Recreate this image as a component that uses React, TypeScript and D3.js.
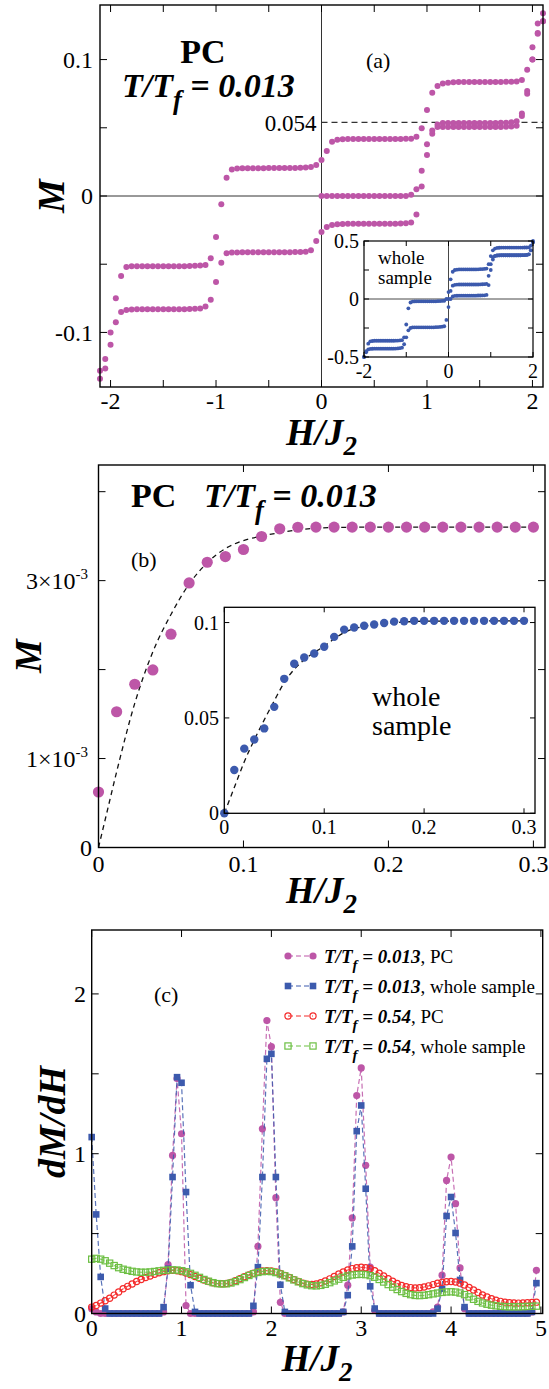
import React from "react";
import * as d3 from "d3";

const SERIF = '"Liberation Serif", "Times New Roman", Times, serif';
const PINK = "#bd56a7";
const BLUE = "#3c5aad";
const RED = "#f42a2a";
const GREEN = "#6cbf43";

// ---------------- Panel (a): PC, T/Tf = 0.013 ----------------
const aFieldStart = -2.1;
const aFieldStep = 0.05;
const aDescending = [
  -0.128, -0.1195, -0.1, -0.075, -0.0587, -0.052,
  -0.0515, -0.0515, -0.0515, -0.0515, -0.0515, -0.0515, -0.0515, -0.0515, -0.0515, -0.0515, -0.0515, -0.0514, -0.0512, -0.051,
  -0.0505, -0.0457, -0.03, -0.006, 0.0133, 0.0195,
  0.0202, 0.0203, 0.0203, 0.0204, 0.0204, 0.0204, 0.0205, 0.0205, 0.0205, 0.0205, 0.0206, 0.0206, 0.0207, 0.0208,
  0.0212, 0.0227, 0.0263, 0.033, 0.0397, 0.0413,
  0.0416, 0.0417, 0.0417, 0.0417, 0.0417, 0.0417, 0.0417, 0.0417, 0.0417, 0.0417, 0.0418, 0.0418, 0.0419, 0.042,
  0.0434, 0.0496, 0.063, 0.0757, 0.0806, 0.0825,
  0.083, 0.0833, 0.0835, 0.0835, 0.0835, 0.0835, 0.0835, 0.0835, 0.0835, 0.0835, 0.0836, 0.0837, 0.0838, 0.084,
  0.085, 0.0925, 0.109, 0.1265, 0.134,
];
const aAscending = [
  -0.134, -0.1265, -0.109, -0.0925, -0.085, -0.0835,
  -0.0832, -0.083, -0.083, -0.083, -0.083, -0.083, -0.083, -0.083, -0.083, -0.083, -0.083, -0.0829, -0.0827, -0.0824,
  -0.081, -0.076, -0.063, -0.049, -0.042, -0.0415,
  -0.0414, -0.0413, -0.0413, -0.0413, -0.0413, -0.0413, -0.0413, -0.0413, -0.0413, -0.0413, -0.0412, -0.0411, -0.041, -0.0408,
  -0.0397, -0.033, -0.0263, -0.0227, -0.0212, -0.0207,
  -0.0205, -0.0204, -0.0204, -0.0204, -0.0204, -0.0204, -0.0204, -0.0204, -0.0204, -0.0203, -0.0203, -0.0202, -0.02,
  -0.0195, -0.0135, 0.007, 0.03, 0.0457, 0.0505,
  0.0505, 0.0505, 0.0505, 0.0505, 0.0505, 0.0505, 0.0505, 0.0505, 0.0505, 0.0505, 0.0505, 0.0506, 0.0507, 0.0509, 0.0515,
  0.0587, 0.075, 0.1, 0.1195, 0.128,
];
const aVirginStart = 0;
const aVirgin = [
  0,
  0, 0, 0, 0, 0, 0, 0, 0, 0, 0, 0, 0, 0, 0, 0, 0,
  0.001, 0.005, 0.0185, 0.038, 0.048, 0.0525,
  0.0535, 0.0535, 0.0535, 0.0535, 0.0535, 0.0535, 0.0535, 0.0535, 0.0535, 0.0535, 0.0535, 0.0536, 0.0537, 0.054, 0.0548,
  0.0605, 0.077, 0.1, 0.119, 0.128,
];
const aXTicks = [-2, -1.5, -1, -0.5, 0, 0.5, 1, 1.5, 2];
const aXLabels = [-2, -1, 0, 1, 2];
const aYTicks = [-0.1, -0.05, 0, 0.05, 0.1];
const aYLabels = [-0.1, 0, 0.1];
const aMarkLevel = 0.054;

// ---------------- Inset (a): whole sample ----------------
const aiFieldStart = -2;
const aiFieldStep = 0.05;
const aiDescending = [
  -0.5, -0.45, -0.385, -0.365,
  -0.362, -0.36, -0.36, -0.36, -0.36, -0.36, -0.36, -0.36, -0.36, -0.36, -0.36, -0.359, -0.358, -0.357,
  -0.355, -0.33, -0.22, -0.08, -0.03, -0.022,
  -0.021, -0.02, -0.02, -0.02, -0.02, -0.02, -0.02, -0.02, -0.02, -0.02, -0.02, -0.019, -0.018, -0.017,
  -0.015, 0.0, 0.06, 0.17, 0.235, 0.25,
  0.253, 0.255, 0.255, 0.255, 0.255, 0.255, 0.255, 0.255, 0.255, 0.255, 0.256, 0.257, 0.258, 0.259,
  0.262, 0.3, 0.37, 0.42, 0.435, 0.44,
  0.442, 0.443, 0.443, 0.443, 0.443, 0.443, 0.443, 0.443, 0.443, 0.443, 0.443, 0.443, 0.444, 0.444,
  0.445, 0.46, 0.5,
];
const aiAscending = [
  -0.5, -0.46, -0.435, -0.43,
  -0.429, -0.428, -0.428, -0.428, -0.428, -0.428, -0.428, -0.428, -0.428, -0.428, -0.428, -0.427, -0.426, -0.424,
  -0.42, -0.39, -0.33, -0.27, -0.25, -0.245,
  -0.244, -0.244, -0.244, -0.244, -0.244, -0.244, -0.244, -0.244, -0.244, -0.244, -0.243, -0.242, -0.241, -0.239,
  -0.235, -0.18, -0.07, 0.0, 0.022, 0.027,
  0.028, 0.029, 0.029, 0.029, 0.029, 0.029, 0.029, 0.029, 0.029, 0.029, 0.03, 0.03, 0.031, 0.032,
  0.035, 0.12, 0.25, 0.34, 0.37, 0.375,
  0.376, 0.377, 0.377, 0.377, 0.377, 0.377, 0.377, 0.377, 0.377, 0.377, 0.377, 0.378, 0.379, 0.38,
  0.385, 0.42, 0.49,
];
const aiVirginStart = 0;
const aiVirgin = [
  0.0, 0.07, 0.115, 0.122,
  0.124, 0.125, 0.125, 0.125, 0.125, 0.125, 0.125, 0.125, 0.125, 0.125, 0.125, 0.126, 0.127, 0.128,
  0.13, 0.2, 0.3, 0.36, 0.372, 0.376,
  0.377, 0.377, 0.377, 0.377, 0.377, 0.377, 0.377, 0.377, 0.377, 0.377, 0.377, 0.378, 0.379, 0.38,
  0.385, 0.42, 0.49,
];
const aiXTicks = [-2, -1, 0, 1, 2];
const aiXLabels = [-2, 0, 2];
const aiYTicks = [-0.5, -0.25, 0, 0.25, 0.5];
const aiYLabels = [-0.5, 0, 0.5];

// ---------------- Panel (b): low field, PC ----------------
const bField = [0, 0.0125, 0.025, 0.0375, 0.05, 0.0625, 0.075, 0.0875, 0.1, 0.1125, 0.125, 0.1375, 0.15,
  0.1625, 0.175, 0.1875, 0.2, 0.2125, 0.225, 0.2375, 0.25, 0.2625, 0.275, 0.2875, 0.3];
const bM = [0.000624, 0.001526, 0.001835, 0.001996, 0.002398, 0.002974, 0.003207, 0.003271, 0.00335, 0.003496,
  0.003583, 0.0036, 0.003602, 0.003602, 0.003602, 0.003602, 0.003602, 0.003602, 0.003602, 0.003602, 0.003602,
  0.003602, 0.003602, 0.003602, 0.003602];
const bFitField = [0, 0.005, 0.0125, 0.025, 0.0375, 0.05, 0.0625, 0.075, 0.0875, 0.1, 0.1125, 0.125, 0.1375,
  0.15, 0.175, 0.2, 0.3];
const bFitM = [0, 0.00034, 0.00085, 0.00162, 0.0022, 0.00262, 0.00296, 0.0032, 0.00336, 0.00345, 0.0035,
  0.00354, 0.00357, 0.00359, 0.0036, 0.003602, 0.003602];
const bXTicks = [0, 0.1, 0.2, 0.3];
const bYTicks = [0, 0.001, 0.002, 0.003, 0.004];
const bYLabels = [0, 0.001, 0.003];

// ---------------- Inset (b): whole sample ----------------
const biField = [0, 0.01, 0.02, 0.03, 0.04, 0.05, 0.06, 0.07, 0.08, 0.09, 0.1, 0.11, 0.12, 0.13, 0.14, 0.15,
  0.16, 0.17, 0.18, 0.19, 0.2, 0.21, 0.22, 0.23, 0.24, 0.25, 0.26, 0.27, 0.28, 0.29, 0.3];
const biM = [0, 0.0227, 0.0339, 0.0387, 0.0445, 0.0558, 0.0705, 0.0784, 0.0817, 0.0838, 0.0873, 0.0925, 0.0963,
  0.0974, 0.0983, 0.099, 0.0998, 0.1005, 0.1007, 0.1009, 0.1009, 0.1009, 0.1009, 0.1009, 0.1009, 0.1009, 0.1009,
  0.1009, 0.1009, 0.1009, 0.1009];
const biFitField = [0, 0.01, 0.02, 0.03, 0.04, 0.05, 0.06, 0.07, 0.08, 0.09, 0.1, 0.11, 0.12, 0.13, 0.14, 0.15,
  0.16, 0.18, 0.2, 0.3];
const biFitM = [0, 0.0135, 0.027, 0.0385, 0.049, 0.059, 0.0685, 0.0755, 0.0805, 0.0843, 0.0876, 0.0915, 0.0948,
  0.0968, 0.098, 0.0988, 0.0995, 0.1003, 0.1007, 0.1009];
const biXTicks = [0, 0.1, 0.2, 0.3];
const biYTicks = [0, 0.05, 0.1];

// ---------------- Panel (c): dM/dH ----------------
const cFieldStart = 0;
const cFieldStep = 0.05;
const cPC013 = [
  0.03, 0.01, 0, 0, 0, 0, 0, 0, 0, 0,
  0, 0, 0, 0, 0, 0, 0.01, 0.306, 0.989, 1.47,
  1.125, 0.05, 0, 0, 0, 0, 0, 0, 0, 0,
  0, 0, 0, 0, 0, 0, 0.01, 0.42, 1.156, 1.833,
  1.67, 0.725, 0.07, 0, 0, 0, 0, 0, 0, 0,
  0, 0, 0, 0, 0, 0, 0.01, 0.177, 0.598, 1.364,
  1.537, 0.927, 0.29, 0.02, 0, 0, 0, 0, 0, 0,
  0, 0, 0, 0, 0, 0, 0.01, 0.04, 0.24, 0.833,
  0.979, 0.6875, 0.285, 0.03, 0, 0, 0, 0, 0, 0,
  0, 0, 0, 0, 0, 0, 0, 0, 0.01, 0.27,
];
const cWhole013 = [
  1.104, 0.62, 0.229, 0.031, 0, 0, 0, 0, 0, 0,
  0, 0, 0, 0, 0, 0, 0.04, 0.28, 0.854, 1.479,
  1.444, 0.76, 0.177, 0.01, 0, 0, 0, 0, 0, 0,
  0, 0, 0, 0, 0, 0, 0.048, 0.29, 0.854, 1.594,
  1.625, 0.854, 0.18, 0.01, 0, 0, 0, 0, 0, 0,
  0, 0, 0, 0, 0, 0, 0.01, 0.115, 0.42, 1.141,
  1.302, 0.781, 0.17, 0.031, 0, 0, 0, 0, 0, 0,
  0, 0, 0, 0, 0, 0, 0, 0.03, 0.155, 0.61,
  0.729, 0.504, 0.21, 0.04, 0, 0, 0, 0, 0, 0,
  0, 0, 0, 0, 0, 0, 0, 0, 0.01, 0.19,
];
const cPC054 = [
  0.04, 0.05, 0.065, 0.08, 0.095, 0.115, 0.135, 0.155, 0.17, 0.185,
  0.2, 0.213, 0.225, 0.235, 0.245, 0.255, 0.262, 0.268, 0.27, 0.268,
  0.262, 0.253, 0.243, 0.232, 0.221, 0.21, 0.2, 0.192, 0.187, 0.186,
  0.188, 0.195, 0.205, 0.218, 0.23, 0.242, 0.252, 0.26, 0.266, 0.268,
  0.266, 0.26, 0.25, 0.238, 0.225, 0.212, 0.2, 0.19, 0.184, 0.182,
  0.185, 0.192, 0.203, 0.217, 0.232, 0.247, 0.26, 0.272, 0.281, 0.287,
  0.289, 0.287, 0.28, 0.268, 0.252, 0.235, 0.218, 0.202, 0.188, 0.176,
  0.167, 0.162, 0.16, 0.161, 0.166, 0.173, 0.181, 0.189, 0.195, 0.199,
  0.2, 0.197, 0.19, 0.178, 0.163, 0.147, 0.131, 0.116, 0.103, 0.092,
  0.083, 0.076, 0.071, 0.068, 0.066, 0.065, 0.066, 0.067, 0.069, 0.071,
];
const cWhole054 = [
  0.34, 0.345, 0.34, 0.33, 0.315, 0.3, 0.287, 0.277, 0.27, 0.264,
  0.26, 0.258, 0.258, 0.26, 0.263, 0.267, 0.27, 0.272, 0.273, 0.272,
  0.268, 0.261, 0.251, 0.239, 0.226, 0.213, 0.202, 0.193, 0.187, 0.185,
  0.186, 0.191, 0.2, 0.212, 0.225, 0.238, 0.249, 0.257, 0.262, 0.264,
  0.262, 0.256, 0.247, 0.236, 0.223, 0.21, 0.198, 0.187, 0.179, 0.174,
  0.173, 0.176, 0.183, 0.193, 0.204, 0.215, 0.226, 0.235, 0.241, 0.244,
  0.245, 0.243, 0.237, 0.227, 0.213, 0.197, 0.181, 0.165, 0.15, 0.137,
  0.126, 0.118, 0.113, 0.112, 0.114, 0.118, 0.123, 0.128, 0.132, 0.135,
  0.136, 0.134, 0.128, 0.118, 0.104, 0.089, 0.076, 0.066, 0.058, 0.052,
  0.048, 0.045, 0.043, 0.042, 0.042, 0.042, 0.043, 0.044, 0.045, 0.046,
];
const cXTicks = [0, 1, 2, 3, 4, 5];
const cYTicks = [0, 0.5, 1, 1.5, 2];
const cYLabels = [0, 1, 2];
const cLegend = [
  { value: "0.013", extra: ", PC", color: PINK, shape: "dot" },
  { value: "0.013", extra: ", whole sample", color: BLUE, shape: "square" },
  { value: "0.54", extra: ", PC", color: RED, shape: "ring" },
  { value: "0.54", extra: ", whole sample", color: GREEN, shape: "box" },
];

type Pt = [number, number];
const toPts = (start: number, step: number, vals: number[]): Pt[] =>
  vals.map((v, i) => [start + i * step, v] as Pt);
const zip = (xs: number[], ys: number[]): Pt[] => xs.map((x, i) => [x, ys[i]] as Pt);

type S = d3.ScaleLinear<number, number>;

function Frame({ x, y, xt, yt, len = 7, sw = 1.4 }: { x: S; y: S; xt: number[]; yt: number[]; len?: number; sw?: number }) {
  const [l, r] = x.range();
  const [b, t] = y.range();
  return (
    <g>
      <g stroke="#000" strokeWidth={1}>
        {xt.map((v, i) => (
          <g key={"x" + i}>
            <line x1={x(v)} x2={x(v)} y1={b} y2={b - len} />
            <line x1={x(v)} x2={x(v)} y1={t} y2={t + len} />
          </g>
        ))}
        {yt.map((v, i) => (
          <g key={"y" + i}>
            <line x1={l} x2={l + len} y1={y(v)} y2={y(v)} />
            <line x1={r} x2={r - len} y1={y(v)} y2={y(v)} />
          </g>
        ))}
      </g>
      <rect x={l} y={t} width={r - l} height={b - t} fill="none" stroke="#000" strokeWidth={sw} />
    </g>
  );
}

function TT({ x, y, size, value, extra, anchor = "start" }: { x: number; y: number; size: number; value: string; extra?: string; anchor?: string }) {
  const sub = size * 0.78;
  const dy = size * 0.36;
  return (
    <text x={x} y={y} fontSize={size} fontWeight="bold" fontStyle="italic" textAnchor={anchor} style={{ whiteSpace: "pre", fontFamily: SERIF }}>
      <tspan>T/T</tspan>
      <tspan fontSize={sub} dy={dy}>f</tspan>
      <tspan dy={-dy}>{` = ${value}`}</tspan>
      {extra ? (
        <tspan fontWeight="normal" fontStyle="normal">{extra}</tspan>
      ) : null}
    </text>
  );
}

function XTitle({ cx, y }: { cx: number; y: number }) {
  return (
    <text x={cx} y={y} textAnchor="middle" fontSize={37} fontWeight="bold" fontStyle="italic" style={{ fontFamily: SERIF }}>
      H/J<tspan fontSize={27} dy={10}>2</tspan>
    </text>
  );
}

function YTitle({ x, cy, label }: { x: number; cy: number; label: string }) {
  return (
    <text transform={`translate(${x},${cy}) rotate(-90)`} textAnchor="middle" fontSize={38} fontWeight="bold" fontStyle="italic" style={{ fontFamily: SERIF }}>
      {label}
    </text>
  );
}

export default function App() {
  // panel (a)
  const xa = d3.scaleLinear().domain([-2.1, 2.1]).range([100, 543]);
  const ya = d3.scaleLinear().domain([-0.14, 0.14]).range([387, 5]);
  const xai = d3.scaleLinear().domain([-2, 2]).range([364, 533]);
  const yai = d3.scaleLinear().domain([-0.5, 0.5]).range([357, 241]);
  const aSets = [
    toPts(aFieldStart, aFieldStep, aDescending),
    toPts(aFieldStart, aFieldStep, aAscending),
    toPts(aVirginStart, aFieldStep, aVirgin),
  ];
  const aiSets = [
    toPts(aiFieldStart, aiFieldStep, aiDescending),
    toPts(aiFieldStart, aiFieldStep, aiAscending),
    toPts(aiVirginStart, aiFieldStep, aiVirgin),
  ];

  // panel (b)
  const xb = d3.scaleLinear().domain([0, 0.308]).range([98.5, 545]);
  const yb = d3.scaleLinear().domain([0, 0.0043]).range([847.5, 465]);
  const xbi = d3.scaleLinear().domain([0, 0.311]).range([224.3, 535]);
  const ybi = d3.scaleLinear().domain([0, 0.108]).range([813.3, 607.3]);
  const bLine = d3.line<Pt>().x((d) => xb(d[0])).y((d) => yb(d[1])).curve(d3.curveMonotoneX);
  const biLine = d3.line<Pt>().x((d) => xbi(d[0])).y((d) => ybi(d[1])).curve(d3.curveMonotoneX);

  // panel (c)
  const xc = d3.scaleLinear().domain([0, 5.02]).range([91.7, 542.7]);
  const yc = d3.scaleLinear().domain([0, 2.4]).range([1313.5, 930]);
  const cLine = d3.line<Pt>().x((d) => xc(d[0])).y((d) => yc(d[1]));
  const cSeries = [
    { pts: toPts(cFieldStart, cFieldStep, cPC013), ...cLegend[0] },
    { pts: toPts(cFieldStart, cFieldStep, cWhole013), ...cLegend[1] },
    { pts: toPts(cFieldStart, cFieldStep, cPC054), ...cLegend[2] },
    { pts: toPts(cFieldStart, cFieldStep, cWhole054), ...cLegend[3] },
  ];

  const marker = (shape: string, color: string, cx: number, cy: number, key: string | number) => {
    if (shape === "dot") return <circle key={key} cx={cx} cy={cy} r={3.6} fill={color} />;
    if (shape === "square") return <rect key={key} x={cx - 3.3} y={cy - 3.3} width={6.6} height={6.6} fill={color} />;
    if (shape === "ring") return <circle key={key} cx={cx} cy={cy} r={3.1} fill="none" stroke={color} strokeWidth={1.2} />;
    return <rect key={key} x={cx - 3.1} y={cy - 3.1} width={6.2} height={6.2} fill="none" stroke={color} strokeWidth={1.2} />;
  };

  const [al, ar] = xa.range();
  const [ab, at] = ya.range();
  const [ail, air] = xai.range();
  const [aib, ait] = yai.range();

  return (
    <svg width={549} height={1389} style={{ position: "absolute", left: 0, top: 0, background: "#fff", fontFamily: SERIF }}>
      {/* ================= Panel (a) ================= */}
      <g>
        <line x1={al} x2={ar} y1={ya(0)} y2={ya(0)} stroke="#333" strokeWidth={1} />
        <line x1={xa(0)} x2={xa(0)} y1={ab} y2={at} stroke="#333" strokeWidth={1} />
        <line x1={xa(0)} x2={ar} y1={ya(aMarkLevel)} y2={ya(aMarkLevel)} stroke="#333" strokeWidth={1.3} strokeDasharray="6 4" />
        <text x={xa(0) - 5} y={ya(aMarkLevel)} dy="0.36em" textAnchor="end" fontSize={23}>0.054</text>
        {aSets.map((set, si) => (
          <g key={si} fill={PINK}>
            {set.map((d, i) => (
              <circle key={i} cx={xa(d[0])} cy={ya(d[1])} r={3} />
            ))}
          </g>
        ))}
        <Frame x={xa} y={ya} xt={aXTicks} yt={aYTicks} />
        {aXLabels.map((v) => (
          <text key={v} x={xa(v)} y={409} textAnchor="middle" fontSize={24}>{String(v)}</text>
        ))}
        {aYLabels.map((v) => (
          <text key={v} x={93} y={ya(v)} dy="0.35em" textAnchor="end" fontSize={24}>{String(v)}</text>
        ))}
        <text x={203} y={63} textAnchor="middle" fontSize={34} fontWeight="bold">PC</text>
        <TT x={122} y={97} size={34} value="0.013" />
        <text x={366} y={68} fontSize={22}>(a)</text>
        <XTitle cx={321.5} y={445} />
        <YTitle x={64} cy={196} label="M" />

        {/* inset (a) */}
        <rect x={ail} y={ait} width={air - ail} height={aib - ait} fill="#fff" />
        <line x1={ail} x2={air} y1={yai(0)} y2={yai(0)} stroke="#333" strokeWidth={0.9} />
        <line x1={xai(0)} x2={xai(0)} y1={aib} y2={ait} stroke="#333" strokeWidth={0.9} />
        {aiSets.map((set, si) => (
          <g key={si} fill={BLUE}>
            {set.map((d, i) => (
              <circle key={i} cx={xai(d[0])} cy={yai(d[1])} r={1.9} />
            ))}
          </g>
        ))}
        <Frame x={xai} y={yai} xt={aiXTicks} yt={aiYTicks} len={5} sw={1.2} />
        {aiXLabels.map((v) => (
          <text key={v} x={xai(v)} y={378} textAnchor="middle" fontSize={20}>{String(v)}</text>
        ))}
        {aiYLabels.map((v) => (
          <text key={v} x={359} y={yai(v)} dy="0.35em" textAnchor="end" fontSize={20}>{String(v)}</text>
        ))}
        <text x={378} y={264} fontSize={19}>whole</text>
        <text x={378} y={284} fontSize={19}>sample</text>
      </g>

      {/* ================= Panel (b) ================= */}
      <g>
        <path d={bLine(zip(bFitField, bFitM)) || ""} fill="none" stroke="#111" strokeWidth={1.3} strokeDasharray="5 4" />
        <g fill={PINK}>
          {zip(bField, bM).map((d, i) => (
            <circle key={i} cx={xb(d[0])} cy={yb(d[1])} r={5.6} />
          ))}
        </g>
        <Frame x={xb} y={yb} xt={bXTicks} yt={bYTicks} />
        {bXTicks.map((v) => (
          <text key={v} x={xb(v)} y={872} textAnchor="middle" fontSize={24}>{String(v)}</text>
        ))}
        {bYLabels.map((v) => (
          <text key={v} x={v === 0 ? 92 : 88} y={yb(v)} dy="0.35em" textAnchor="end" fontSize={24}>
            {v === 0 ? (
              "0"
            ) : (
              <>
                {`${Math.round(v * 1000)}×10`}
                <tspan fontSize={15} dy={-10}>-3</tspan>
              </>
            )}
          </text>
        ))}
        <text x={131} y={507} fontSize={34} fontWeight="bold">PC</text>
        <TT x={204} y={507} size={34} value="0.013" />
        <text x={131} y={567} fontSize={22}>(b)</text>
        <XTitle cx={321.5} y={903} />
        <YTitle x={41} cy={656} label="M" />

        {/* inset (b) */}
        <rect x={224.3} y={607.3} width={535 - 224.3} height={813.3 - 607.3} fill="#fff" />
        <path d={biLine(zip(biFitField, biFitM)) || ""} fill="none" stroke="#111" strokeWidth={1.3} strokeDasharray="5 4" />
        <g fill={BLUE}>
          {zip(biField, biM).map((d, i) => (
            <circle key={i} cx={xbi(d[0])} cy={ybi(d[1])} r={4.2} />
          ))}
        </g>
        <Frame x={xbi} y={ybi} xt={biXTicks} yt={biYTicks} len={5} sw={1.3} />
        {biXTicks.map((v) => (
          <text key={v} x={xbi(v)} y={834} textAnchor="middle" fontSize={20}>{String(v)}</text>
        ))}
        {biYTicks.map((v) => (
          <text key={v} x={219} y={ybi(v)} dy="0.35em" textAnchor="end" fontSize={20}>{String(v)}</text>
        ))}
        <text x={372} y={706} fontSize={28}>whole</text>
        <text x={372} y={735} fontSize={28}>sample</text>
      </g>

      {/* ================= Panel (c) ================= */}
      <g>
        {cSeries.map((s, si) => (
          <g key={si}>
            <path d={cLine(s.pts) || ""} fill="none" stroke={s.color} strokeOpacity={0.85} strokeWidth={1.2} strokeDasharray="5 3" />
            {s.pts.map((d, i) => marker(s.shape, s.color, xc(d[0]), yc(d[1]), i))}
          </g>
        ))}
        <Frame x={xc} y={yc} xt={cXTicks} yt={cYTicks} />
        {cXTicks.map((v) => (
          <text key={v} x={xc(v)} y={1336} textAnchor="middle" fontSize={24}>{String(v)}</text>
        ))}
        {cYLabels.map((v) => (
          <text key={v} x={86} y={yc(v)} dy="0.35em" textAnchor="end" fontSize={24}>{String(v)}</text>
        ))}
        <text x={154} y={1002} fontSize={22}>(c)</text>
        {cLegend.map((e, i) => {
          const cy = 956 + i * 30;
          return (
            <g key={i}>
              <line x1={288} x2={313} y1={cy} y2={cy} stroke={e.color} strokeWidth={1.2} strokeDasharray="5 3" />
              {marker(e.shape, e.color, 288, cy, "a")}
              {marker(e.shape, e.color, 313, cy, "b")}
              <TT x={324} y={cy + 7} size={19} value={e.value} extra={e.extra} />
            </g>
          );
        })}
        <XTitle cx={317} y={1371} />
        <YTitle x={65} cy={1122} label="dM/dH" />
      </g>
    </svg>
  );
}
